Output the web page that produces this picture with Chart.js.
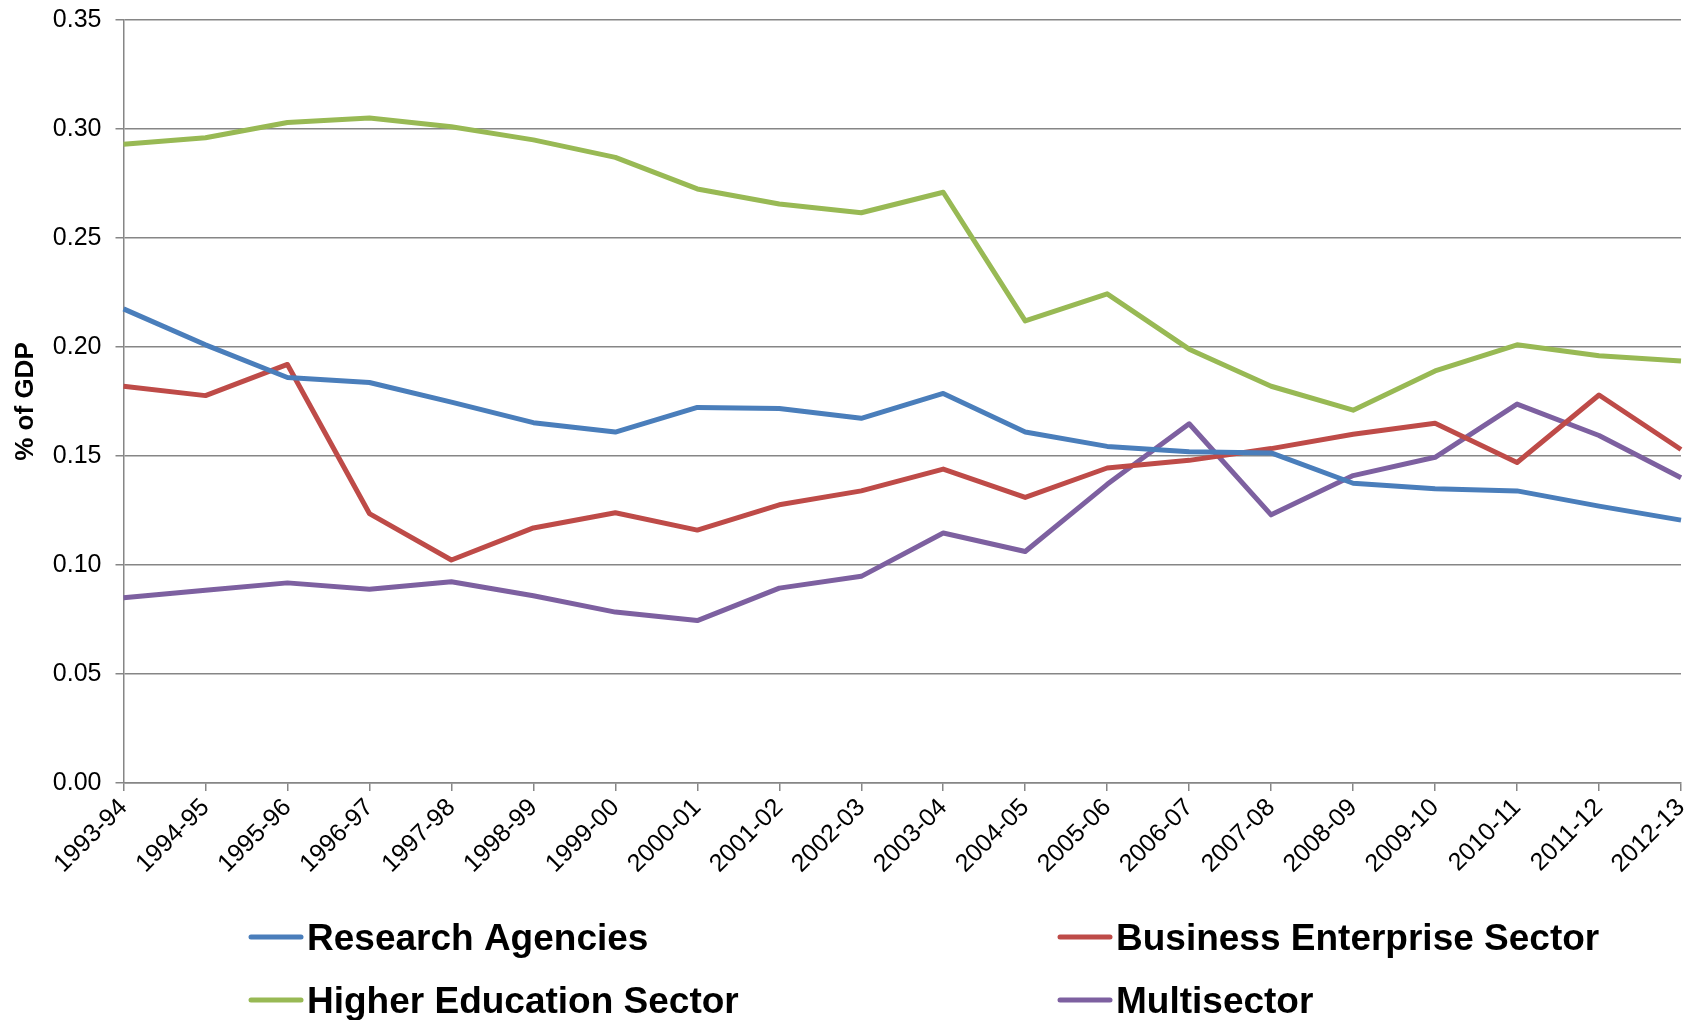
<!DOCTYPE html>
<html>
<head>
<meta charset="utf-8">
<title>Gross expenditure on R&amp;D by sector</title>
<script src="https://cdn.jsdelivr.net/npm/chart.js@4.4.1/dist/chart.umd.min.js"></script>
<style>
  html, body { margin: 0; padding: 0; background: #fff; }
  #wrap { width: 1698px; height: 1020px; }
</style>
</head>
<body>
<div id="wrap"><canvas id="gerdChart" width="1698" height="1020"></canvas></div>
<script>
const years = [
  "1993-94", "1994-95", "1995-96", "1996-97", "1997-98", "1998-99", "1999-00",
  "2000-01", "2001-02", "2002-03", "2003-04", "2004-05", "2005-06", "2006-07",
  "2007-08", "2008-09", "2009-10", "2010-11", "2011-12", "2012-13"
];

// % of GDP by sector
const researchAgencies = [
  0.2175, 0.201, 0.186, 0.1837, 0.1747, 0.1653, 0.161, 0.1723, 0.1718, 0.1673,
  0.1787, 0.161, 0.1544, 0.152, 0.1514, 0.1375, 0.135, 0.134, 0.127, 0.1206
];
const businessEnterprise = [
  0.182, 0.1777, 0.192, 0.1236, 0.1023, 0.117, 0.124, 0.116, 0.1276, 0.134,
  0.144, 0.131, 0.1445, 0.148, 0.1534, 0.160, 0.165, 0.147, 0.178, 0.153
];
const higherEducation = [
  0.293, 0.296, 0.303, 0.305, 0.301, 0.295, 0.287, 0.2725, 0.2656, 0.2616,
  0.271, 0.212, 0.2244, 0.199, 0.182, 0.171, 0.189, 0.201, 0.196, 0.1936
];
const multisector = [
  0.085, 0.0884, 0.0918, 0.0889, 0.0923, 0.0859, 0.0784, 0.0745, 0.0894, 0.0948,
  0.1147, 0.1062, 0.137, 0.1648, 0.123, 0.141, 0.1494, 0.1738, 0.1594, 0.14
];

const yMin = 0;
const yMax = 0.35;
const yStep = 0.05;

const FONT = "'Liberation Sans', Arial, sans-serif";
const AXIS_GREY = "#868686";

function line(label, data, color) {
  return {
    label: label,
    data: data,
    borderColor: color,
    backgroundColor: color,
    borderWidth: 5,
    pointRadius: 0,
    pointHoverRadius: 0,
    tension: 0,
    fill: false,
    borderJoinStyle: "round"
  };
}

// two-column legend under the axis, in dataset order
const columnLegend = {
  id: "columnLegend",
  afterDraw(chart) {
    const ctx = chart.ctx;
    const cols = [249, 1058];
    const rows = [937, 1000];
    ctx.save();
    ctx.font = "bold 37px " + FONT;
    ctx.textAlign = "left";
    ctx.textBaseline = "alphabetic";
    chart.data.datasets.forEach((ds, i) => {
      const x = cols[i % 2];
      const y = rows[Math.floor(i / 2)];
      ctx.strokeStyle = ds.borderColor;
      ctx.lineWidth = 5;
      ctx.lineCap = "round";
      ctx.beginPath();
      ctx.moveTo(x + 2, y);
      ctx.lineTo(x + 52, y);
      ctx.stroke();
      ctx.fillStyle = "#000";
      ctx.fillText(ds.label, x + 58, y + 13);
    });
    ctx.restore();
  }
};

const ctx = document.getElementById("gerdChart").getContext("2d");
new Chart(ctx, {
  type: "line",
  data: {
    labels: years,
    datasets: [
      line("Research Agencies", researchAgencies, "#4a7ebb"),
      line("Business Enterprise Sector", businessEnterprise, "#be4b48"),
      line("Higher Education Sector", higherEducation, "#98b954"),
      line("Multisector", multisector, "#7d60a0")
    ]
  },
  options: {
    responsive: false,
    animation: false,
    events: [],
    layout: {
      padding: { top: 20, right: 17, bottom: 137, left: 6 }
    },
    plugins: {
      legend: { display: false },
      tooltip: { enabled: false }
    },
    scales: {
      x: {
        offset: false,
        grid: {
          display: true,
          drawOnChartArea: false,
          drawTicks: true,
          tickLength: 8,
          color: AXIS_GREY,
          lineWidth: 1.5
        },
        border: { color: AXIS_GREY, width: 1.5 },
        ticks: {
          autoSkip: false,
          minRotation: 45,
          maxRotation: 45,
          padding: 2,
          color: "#000",
          font: { family: FONT, size: 25 }
        },
        afterFit(scale) {
          scale.height = 100;
          scale.paddingRight = 0;
        }
      },
      y: {
        min: yMin,
        max: yMax,
        grid: {
          color: AXIS_GREY,
          lineWidth: 1.5,
          tickLength: 8
        },
        border: { color: AXIS_GREY, width: 1.5 },
        ticks: {
          stepSize: yStep,
          padding: 14,
          color: "#000",
          font: { family: FONT, size: 25 },
          callback: (v) => Number(v).toFixed(2)
        },
        title: {
          display: true,
          text: "% of GDP",
          color: "#000",
          padding: { top: 4, bottom: 4 },
          font: { family: FONT, size: 26, weight: "bold" }
        },
        afterFit(scale) {
          scale.width = 117.5;
          scale.paddingTop = 0;
          scale.paddingBottom = 0;
        }
      }
    }
  },
  plugins: [columnLegend]
});
</script>
</body>
</html>
